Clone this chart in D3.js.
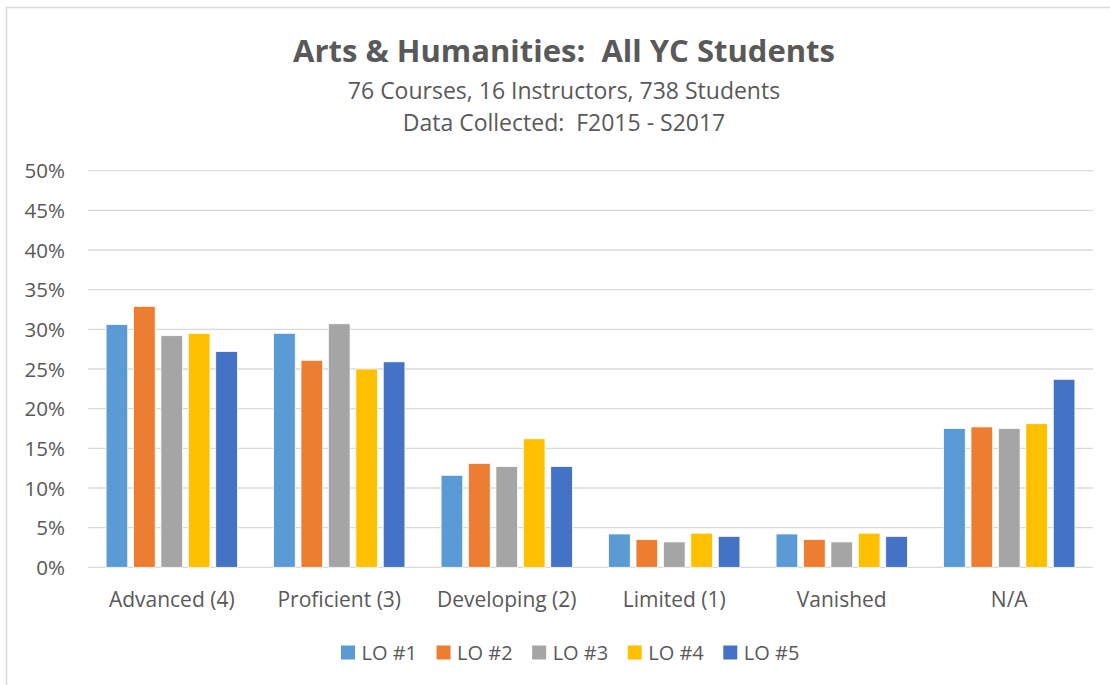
<!DOCTYPE html>
<html>
<head>
<meta charset="utf-8">
<script src="https://cdn.jsdelivr.net/npm/d3@7"></script>
<style>
  html, body { margin: 0; padding: 0; background: #fff; }
  svg { display: block; }
  text { font-family: "Open Sans", "Noto Sans", sans-serif; fill: #595959; white-space: pre; }
</style>
</head>
<body>
<svg id="chart" width="1110" height="685"></svg>
<script>
const categories = ["Advanced (4)", "Proficient (3)", "Developing (2)", "Limited (1)", "Vanished", "N/A"];
const seriesNames = ["LO #1", "LO #2", "LO #3", "LO #4", "LO #5"];
const lo1 = [30.6, 29.5, 11.6, 4.2, 4.2, 17.5];
const lo2 = [32.9, 26.1, 13.1, 3.5, 3.5, 17.7];
const lo3 = [29.2, 30.7, 12.7, 3.2, 3.2, 17.5];
const lo4 = [29.5, 25.0, 16.2, 4.3, 4.3, 18.1];
const lo5 = [27.2, 25.9, 12.7, 3.9, 3.9, 23.7];
const yTicks = [0, 5, 10, 15, 20, 25, 30, 35, 40, 45, 50];
const colors = ["#5B9BD5", "#ED7D31", "#A5A5A5", "#FFC000", "#4472C4"];
const title = "Arts & Humanities:  All YC Students";
const subtitle1 = "76 Courses, 16 Instructors, 738 Students";
const subtitle2 = "Data Collected:  F2015 - S2017";

const seriesValues = [lo1, lo2, lo3, lo4, lo5];
const svg = d3.select("#chart");

// outer border (chart area frame)
svg.append("rect").attr("x", 6.5).attr("y", 7.5).attr("width", 1200).attr("height", 800)
  .attr("fill", "none").attr("stroke", "#D9D9D9").attr("stroke-width", 1.5);

const plot = { left: 88, right: 1093, top: 170.7, bottom: 567.3 };

const x = d3.scaleBand().domain(categories).range([plot.left, plot.right]).paddingInner(0).paddingOuter(0);
const inner = d3.scaleBand().domain(seriesNames).range([0, x.bandwidth()]).paddingInner(0.21).paddingOuter(0.66);
const y = d3.scaleLinear().domain([0, 50]).range([plot.bottom, plot.top]);

// gridlines
svg.append("g").selectAll("line").data(yTicks).join("line")
  .attr("x1", plot.left).attr("x2", plot.right)
  .attr("y1", d => y(d)).attr("y2", d => y(d))
  .attr("stroke", "#D9D9D9").attr("stroke-width", 1.3);

// y axis labels
const yAxis = d3.axisLeft(y).tickValues(yTicks).tickFormat(d => d + "%").tickSize(0).tickPadding(0);
const gy = svg.append("g").attr("transform", "translate(65,0)").call(yAxis);
gy.select(".domain").remove();
gy.selectAll("text").attr("font-size", 20.5).style("font-family", '"Open Sans", sans-serif').attr("fill", "#595959").attr("dy", "0.35em");

// bars
const groups = svg.append("g").selectAll("g").data(categories).join("g")
  .attr("transform", d => `translate(${x(d)},0)`);
groups.selectAll("rect").data((c, ci) => seriesNames.map((s, si) => ({ s, si, v: seriesValues[si][ci] })))
  .join("rect")
  .attr("x", d => inner(d.s))
  .attr("width", inner.bandwidth())
  .attr("y", d => y(d.v))
  .attr("height", d => y(0) - y(d.v))
  .attr("fill", d => colors[d.si])
  .attr("stroke", "#fff").attr("stroke-width", 0.75);

// x axis labels
const xAxis = d3.axisBottom(x).tickSize(0).tickPadding(0);
const gx = svg.append("g").attr("transform", `translate(0,${plot.bottom})`).call(xAxis);
gx.select(".domain").remove();
gx.selectAll("text").attr("font-size", 21).style("font-family", '"Open Sans", sans-serif').attr("fill", "#595959").attr("dy", 0).attr("y", 39.5);

// title
svg.append("text").attr("x", 564).attr("y", 62).attr("text-anchor", "middle")
  .attr("font-size", 31).attr("font-weight", "bold").text(title);
svg.append("text").attr("x", 564).attr("y", 99).attr("text-anchor", "middle")
  .attr("font-size", 23).text(subtitle1);
svg.append("text").attr("x", 564).attr("y", 131).attr("text-anchor", "middle")
  .attr("font-size", 23).text(subtitle2);

// legend
const legendX = d3.scalePoint().domain(seriesNames).range([341, 723.3]);
const lg = svg.append("g").selectAll("g").data(seriesNames).join("g")
  .attr("transform", d => `translate(${legendX(d)},0)`);
lg.append("rect").attr("x", 0).attr("y", 645.5).attr("width", 14).attr("height", 14)
  .attr("fill", (d, i) => colors[i]);
lg.append("text").attr("x", 20.5).attr("y", 659.5).attr("font-size", 20).text(d => d);
</script>
</body>
</html>
